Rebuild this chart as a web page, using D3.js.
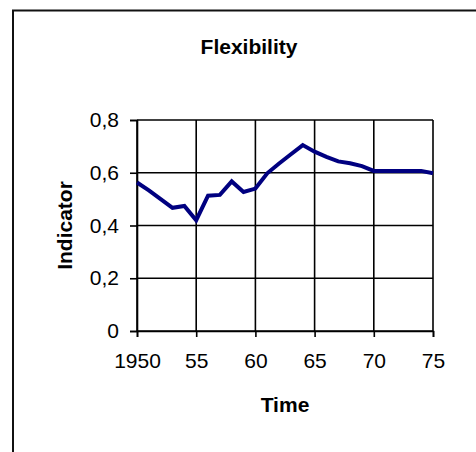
<!DOCTYPE html>
<html>
<head>
<meta charset="utf-8">
<script src="https://cdn.jsdelivr.net/npm/d3@7"></script>
<style>
  html, body { margin: 0; padding: 0; background: #fff; }
  svg { display: block; }
  text { font-family: "Liberation Sans", Arial, sans-serif; fill: #000; }
</style>
</head>
<body>
<div id="chart"></div>
<script>
// Flexibility indicator, yearly values 1950–1975
const years = [1950, 1951, 1952, 1953, 1954, 1955, 1956, 1957, 1958, 1959,
               1960, 1961, 1962, 1963, 1964, 1965, 1966, 1967, 1968, 1969,
               1970, 1971, 1972, 1973, 1974, 1975];
const indicator = [0.563, 0.533, 0.500, 0.467, 0.474, 0.420, 0.513, 0.516, 0.567, 0.527,
                   0.540, 0.598, 0.635, 0.670, 0.705, 0.680, 0.660, 0.643, 0.636, 0.625,
                   0.607, 0.607, 0.607, 0.607, 0.607, 0.598];
const xTicks = [1950, 1955, 1960, 1965, 1970, 1975];
const xTickLabels = ["1950", "55", "60", "65", "70", "75"];
const yTicks = [0, 0.2, 0.4, 0.6, 0.8];
const yTickLabels = ["0", "0,2", "0,4", "0,6", "0,8"];

const W = 476, H = 452;
const plot = { left: 137, right: 433, top: 120, bottom: 331 };

const svg = d3.select("#chart").append("svg")
  .attr("width", W).attr("height", H);

svg.append("rect").attr("width", W).attr("height", H).attr("fill", "#fff");

// chart frame (runs past the right and bottom edges)
svg.append("path")
  .attr("d", `M13,${H + 5} L13,10.5 L${W + 5},10.5`)
  .attr("fill", "none").attr("stroke", "#111").attr("stroke-width", 2);

const x = d3.scaleLinear().domain([1950, 1975]).range([plot.left, plot.right]);
const y = d3.scaleLinear().domain([0, 0.8]).range([plot.bottom, plot.top]);

// gridlines
const grid = svg.append("g").attr("stroke", "#000").attr("stroke-width", 1.6);
grid.selectAll("line.h").data(yTicks).join("line")
  .attr("x1", plot.left).attr("x2", plot.right)
  .attr("y1", d => y(d)).attr("y2", d => y(d));
grid.selectAll("line.v").data(xTicks).join("line")
  .attr("y1", plot.top).attr("y2", plot.bottom)
  .attr("x1", d => x(d)).attr("x2", d => x(d));

// axes
const xAxis = d3.axisBottom(x).tickValues(xTicks)
  .tickFormat((d, i) => xTickLabels[i]).tickSize(6).tickPadding(16);
const yAxis = d3.axisLeft(y).tickValues(yTicks)
  .tickFormat((d, i) => yTickLabels[i]).tickSize(7).tickPadding(11);

const gx = svg.append("g").attr("transform", `translate(0,${plot.bottom})`).call(xAxis);
const gy = svg.append("g").attr("transform", `translate(${plot.left},0)`).call(yAxis);
[gx, gy].forEach(g => {
  g.select(".domain").attr("stroke", "#000").attr("stroke-width", 1.6);
  g.selectAll(".tick line").attr("stroke", "#000").attr("stroke-width", 1.6);
  g.selectAll(".tick text")
    .attr("font-family", "'Liberation Sans', Arial, sans-serif")
    .attr("font-size", 21).attr("fill", "#000");
});

// data line
const line = d3.line().x((d, i) => x(years[i])).y(d => y(d));
svg.append("path")
  .datum(indicator)
  .attr("d", line)
  .attr("fill", "none")
  .attr("stroke", "#000080")
  .attr("stroke-width", 4)
  .attr("stroke-linejoin", "miter");

// titles
svg.append("text")
  .attr("x", 249).attr("y", 54)
  .attr("text-anchor", "middle")
  .attr("font-size", 21).attr("font-weight", "bold")
  .text("Flexibility");

svg.append("text")
  .attr("x", (plot.left + plot.right) / 2).attr("y", 412)
  .attr("text-anchor", "middle")
  .attr("font-size", 21).attr("font-weight", "bold")
  .text("Time");

svg.append("text")
  .attr("transform", `translate(72,${(plot.top + plot.bottom) / 2}) rotate(-90)`)
  .attr("text-anchor", "middle")
  .attr("font-size", 21).attr("font-weight", "bold")
  .text("Indicator");
</script>
</body>
</html>
